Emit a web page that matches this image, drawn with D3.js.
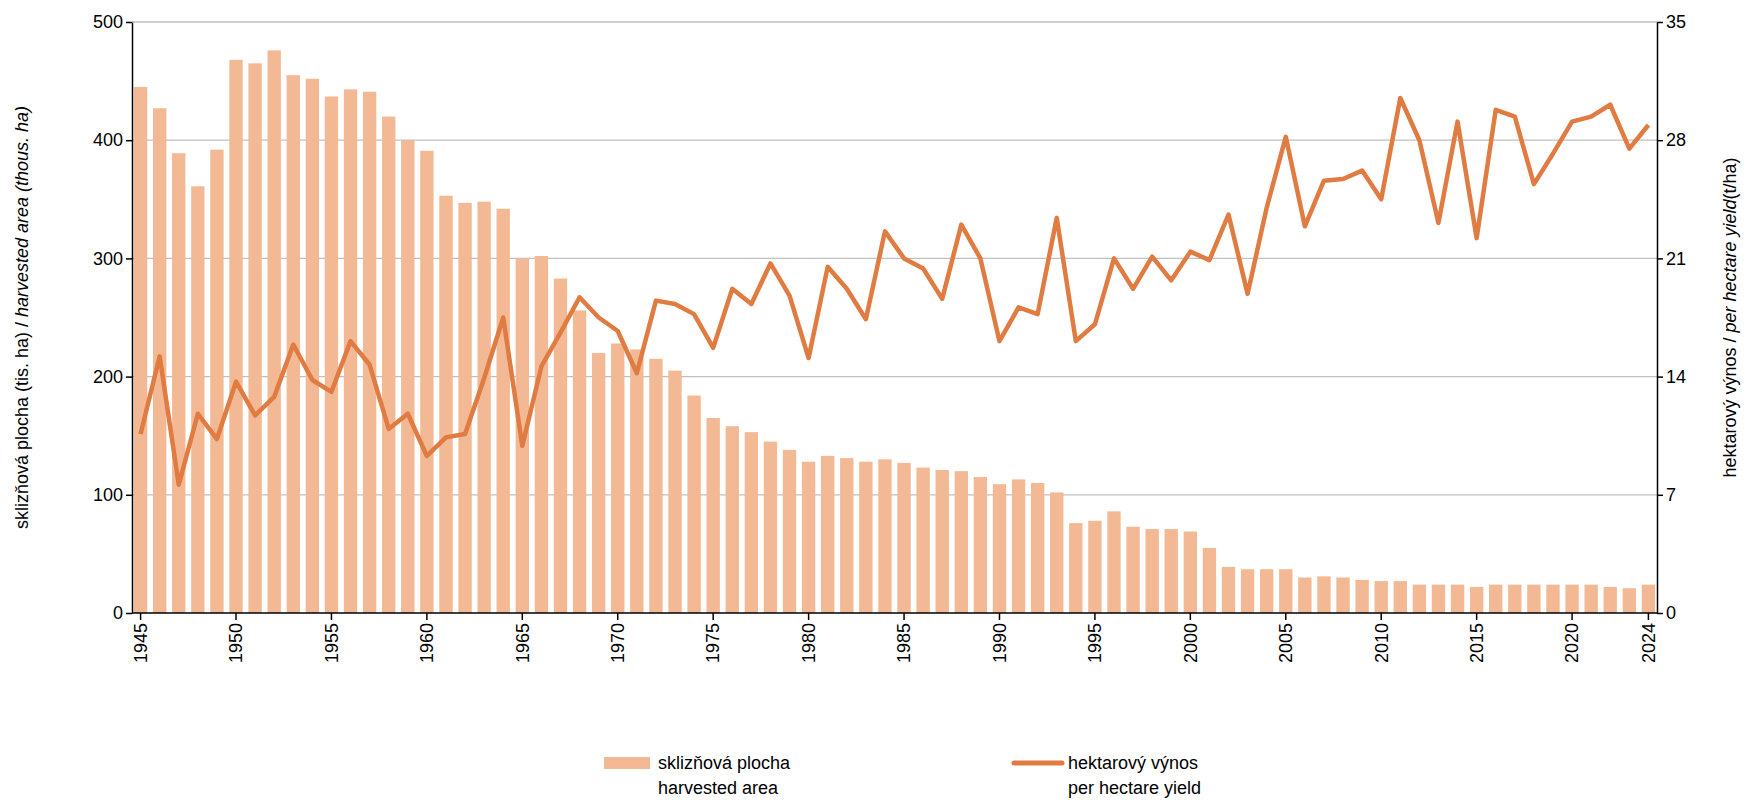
<!DOCTYPE html>
<html><head><meta charset="utf-8">
<script src="https://cdn.jsdelivr.net/npm/d3@7/dist/d3.min.js"></script>
<style>body{margin:0;background:#fff;font-family:"Liberation Sans",Arial,sans-serif}</style>
</head><body><svg id="c" width="1760" height="800"></svg>
<script>
const years = d3.range(1945, 2025);
const area = [445,427,389,361,392,468,465,476,455,452,437,443,441,420,400,391,353,347,348,342,
300,302,283,256,220,228,223,215,205,184,165,158,153,145,138,128,133,131,128,130,
127,123,121,120,115,109,113,110,102,76,78,86,73,71,71,69,55,39,37,37,
37,30,31,30,28,27,27,24,24,24,22,24,24,24,24,24,24,22,21,24];
const yieldV = [10.6,15.2,7.6,11.8,10.3,13.7,11.7,12.8,15.9,13.8,13.1,16.1,14.7,10.9,11.8,9.3,10.4,10.6,13.9,17.5,
9.9,14.6,16.6,18.7,17.5,16.7,14.2,18.5,18.3,17.7,15.7,19.2,18.3,20.7,18.8,15.1,20.5,19.2,17.4,22.6,
21.0,20.4,18.6,23.0,21.0,16.1,18.1,17.7,23.4,16.1,17.1,21.0,19.2,21.1,19.7,21.4,20.9,23.6,18.9,24.0,
28.2,22.9,25.6,25.7,26.2,24.5,30.5,28.0,23.1,29.1,22.2,29.8,29.4,25.4,27.2,29.1,29.4,30.1,27.5,28.9];
const leftTicks = [0,100,200,300,400,500];
const rightTicks = [0,7,14,21,28,35];

const svg = d3.select("#c");
const L=132,R=1657,T=22,B=613;
const x = d3.scaleBand().domain(years).range([L,R]).paddingInner(0.3).paddingOuter(0.1);
const yL = d3.scaleLinear().domain([0,500]).range([B,T]);
const yR = d3.scaleLinear().domain([0,35]).range([B,T]);

svg.append("g").selectAll("line").data(leftTicks.slice(1)).join("line")
 .attr("x1",L).attr("x2",R).attr("y1",d=>yL(d)).attr("y2",d=>yL(d))
 .attr("stroke","#c0c0c0").attr("stroke-width",1.3);

svg.append("g").selectAll("rect").data(years).join("rect")
 .attr("x",d=>x(d)).attr("width",x.bandwidth())
 .attr("y",(d,i)=>yL(area[i])).attr("height",(d,i)=>B-yL(area[i]))
 .attr("fill","#f2b994");

svg.append("path").datum(yieldV)
 .attr("d",d3.line().x((d,i)=>x(years[i])+x.bandwidth()/2).y(d=>yR(d)))
 .attr("fill","none").attr("stroke","#e07b42").attr("stroke-width",4.5).attr("stroke-linejoin","round");

const fs="18px";
const gl=svg.append("g").attr("transform",`translate(${L},0)`)
 .call(d3.axisLeft(yL).tickValues(leftTicks).tickSize(6).tickSizeOuter(0));
const gr=svg.append("g").attr("transform",`translate(${R},0)`)
 .call(d3.axisRight(yR).tickValues(rightTicks).tickSize(6).tickSizeOuter(0));
const gb=svg.append("g").attr("transform",`translate(0,${B})`)
 .call(d3.axisBottom(x).tickValues(years.filter(y=>y%5==0||y==2024)).tickSize(7).tickSizeOuter(0));
[gl,gr,gb].forEach(g=>{g.selectAll("path,line").attr("stroke","#000").attr("stroke-width",1.5);
 g.selectAll("text").attr("font-family","Liberation Sans, Arial").attr("font-size",fs).attr("fill","#000");});
gb.select(".domain").attr("d",`M${L},0H${R}`);
gb.selectAll("text").attr("transform","rotate(-90)").attr("text-anchor","end")
 .attr("x",-10).attr("y",0).attr("dy","0.35em");

const lt=svg.append("text").attr("transform",`translate(28,${(T+B)/2}) rotate(-90)`)
 .attr("text-anchor","middle").attr("font-size","18px");
lt.append("tspan").text("sklizňová plocha (tis. ha) / ");
lt.append("tspan").attr("font-style","italic").text("harvested area (thous. ha)");
const rt=svg.append("text").attr("transform",`translate(1736,${(T+B)/2}) rotate(-90)`)
 .attr("text-anchor","middle").attr("font-size","18px");
rt.append("tspan").text("hektarový výnos / ");
rt.append("tspan").attr("font-style","italic").text("per hectare yield");
rt.append("tspan").text("(t/ha)");

const lg=svg.append("g").attr("font-size","18px");
lg.append("rect").attr("x",604).attr("y",757).attr("width",46).attr("height",12).attr("fill","#f2b994");
lg.append("text").attr("x",658).attr("y",769).text("sklizňová plocha");
lg.append("text").attr("x",658).attr("y",794).text("harvested area");
lg.append("line").attr("x1",1014).attr("x2",1062).attr("y1",763).attr("y2",763).attr("stroke","#e07b42").attr("stroke-width",5).attr("stroke-linecap","round");
lg.append("text").attr("x",1068).attr("y",769).text("hektarový výnos");
lg.append("text").attr("x",1068).attr("y",794).text("per hectare yield");
</script></body></html>
